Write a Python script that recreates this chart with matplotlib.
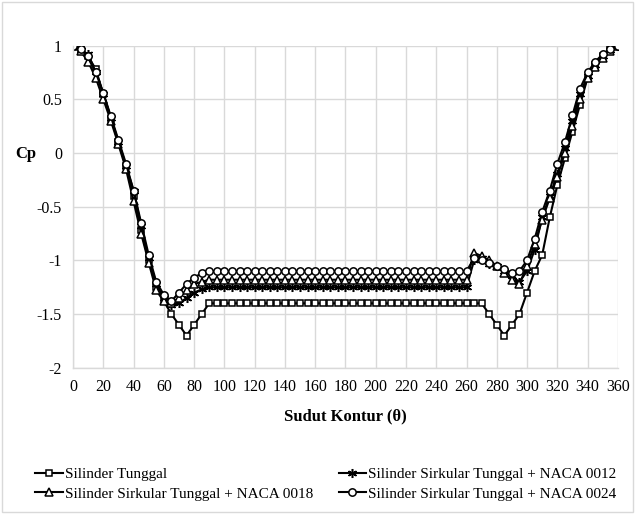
import matplotlib
matplotlib.use("Agg")
import matplotlib.pyplot as plt
from matplotlib.patches import Rectangle

plt.rcParams['font.family'] = ['Liberation Serif', 'DejaVu Serif']

theta = list(range(0, 365, 5))

cp_tunggal = [1.0, 0.97, 0.9, 0.78, 0.55, 0.32, 0.1, -0.12, -0.4, -0.72, -1.0, -1.25, -1.38, -1.5, -1.6, -1.7, -1.6, -1.5,
              -1.4, -1.4, -1.4, -1.4, -1.4, -1.4, -1.4, -1.4, -1.4, -1.4, -1.4, -1.4, -1.4, -1.4, -1.4, -1.4, -1.4, -1.4, -1.4,
              -1.4, -1.4, -1.4, -1.4, -1.4, -1.4, -1.4, -1.4, -1.4, -1.4, -1.4, -1.4, -1.4, -1.4, -1.4, -1.4, -1.4, -1.4,
              -1.5, -1.6, -1.7, -1.6, -1.5, -1.3, -1.1, -0.95, -0.6, -0.3, -0.05, 0.2, 0.45, 0.7, 0.82, 0.9, 0.97, 1.0]

cp_naca0012 = [1.0, 0.96, 0.92, 0.75, 0.55, 0.33, 0.1, -0.12, -0.35, -0.68, -0.98, -1.22, -1.35, -1.42, -1.4, -1.35, -1.3, -1.27,
               -1.25, -1.25, -1.25, -1.25, -1.25, -1.25, -1.25, -1.25, -1.25, -1.25, -1.25, -1.25, -1.25, -1.25, -1.25, -1.25, -1.25, -1.25,
               -1.25, -1.25, -1.25, -1.25, -1.25, -1.25, -1.25, -1.25, -1.25, -1.25, -1.25, -1.25, -1.25, -1.25, -1.25, -1.25, -1.25,
               -1.0, -0.98, -1.03, -1.05, -1.1, -1.15, -1.2, -1.1, -0.9, -0.6, -0.4, -0.2, 0.05, 0.3, 0.55, 0.72, 0.82, 0.9, 0.96, 1.0]

cp_naca0018 = [1.0, 0.95, 0.85, 0.7, 0.5, 0.3, 0.08, -0.15, -0.45, -0.75, -1.02, -1.28, -1.38, -1.4, -1.35, -1.28, -1.22, -1.2,
               -1.18, -1.18, -1.18, -1.18, -1.18, -1.18, -1.18, -1.18, -1.18, -1.18, -1.18, -1.18, -1.18, -1.18, -1.18, -1.18, -1.18, -1.18,
               -1.18, -1.18, -1.18, -1.18, -1.18, -1.18, -1.18, -1.18, -1.18, -1.18, -1.18, -1.18, -1.18, -1.18, -1.18, -1.18, -1.18,
               -0.93, -0.96, -1.0, -1.05, -1.12, -1.18, -1.22, -1.05, -0.85, -0.62, -0.42, -0.22, 0.0, 0.25, 0.5, 0.7, 0.8, 0.88, 0.95, 1.0]

cp_naca0024 = [1.0, 0.97, 0.9, 0.75, 0.56, 0.34, 0.12, -0.1, -0.35, -0.65, -0.95, -1.2, -1.32, -1.38, -1.3, -1.22, -1.16, -1.12,
               -1.1, -1.1, -1.1, -1.1, -1.1, -1.1, -1.1, -1.1, -1.1, -1.1, -1.1, -1.1, -1.1, -1.1, -1.1, -1.1, -1.1, -1.1,
               -1.1, -1.1, -1.1, -1.1, -1.1, -1.1, -1.1, -1.1, -1.1, -1.1, -1.1, -1.1, -1.1, -1.1, -1.1, -1.1, -1.1,
               -0.98, -1.0, -1.02, -1.05, -1.08, -1.12, -1.1, -1.0, -0.8, -0.55, -0.35, -0.1, 0.1, 0.35, 0.6, 0.75, 0.85, 0.92, 0.97, 1.0]

labels = ["Silinder Tunggal", "Silinder Sirkular Tunggal + NACA 0012",
          "Silinder Sirkular Tunggal + NACA 0018", "Silinder Sirkular Tunggal + NACA 0024"]

x_ticks = list(range(0, 380, 20))
y_ticks = [1, 0.5, 0, -0.5, -1, -1.5, -2]
y_ticklabels = ["1", "0.5", "0", "-0.5", "-1", "-1.5", "-2"]

fig = plt.figure(figsize=(6.35, 5.18), dpi=100)
ax = fig.add_axes([0.115, 0.29, 0.858, 0.622])

common = dict(color='black', linewidth=1.5, markerfacecolor='white',
              markeredgecolor='black', markeredgewidth=1.1)
l1, = ax.plot(theta, cp_tunggal, marker='s', markersize=5, label=labels[0], **common)
l2, = ax.plot(theta, cp_naca0012, marker=(6, 2, 0), markersize=6.5, label=labels[1], **common)
l3, = ax.plot(theta, cp_naca0018, marker='^', markersize=5.5, label=labels[2], **common)
l4, = ax.plot(theta, cp_naca0024, marker='o', markersize=5.3, label=labels[3], **common)

ax.set_xlim(0, 360)
ax.set_ylim(-2, 1)
ax.set_xticks(x_ticks)
ax.set_yticks(y_ticks)
ax.set_yticklabels(y_ticklabels)
ax.tick_params(axis='both', length=0, labelsize=11.5, pad=8)
ax.grid(True, color='#d9d9d9', linewidth=1)
ax.set_axisbelow(True)
for s in ['top', 'right']:
    ax.spines[s].set_visible(False)
for s in ['left', 'bottom']:
    ax.spines[s].set_color('#d9d9d9')
    ax.spines[s].set_linewidth(1)

ax.set_xlabel("Sudut Kontur (θ)", fontsize=12, fontweight='bold', labelpad=10)
fig.text(0.04, 1 - 154 / 518, "Cp", fontsize=12, fontweight='bold', ha='center', va='center')

fig.legend(handles=[l1, l3, l2, l4],
           labels=[labels[0], labels[2], labels[1], labels[3]],
           loc='center', bbox_to_anchor=(0.513, 1 - 484 / 518), ncol=2, frameon=False,
           fontsize=11, handlelength=1.8, handletextpad=0.1, columnspacing=1.7,
           labelspacing=0.4)

fig.patches.append(Rectangle((0.003, 0.012), 0.994, 0.985, transform=fig.transFigure,
                             fill=False, edgecolor='#d9d9d9', linewidth=1))

fig.savefig("out.png", dpi=100)
